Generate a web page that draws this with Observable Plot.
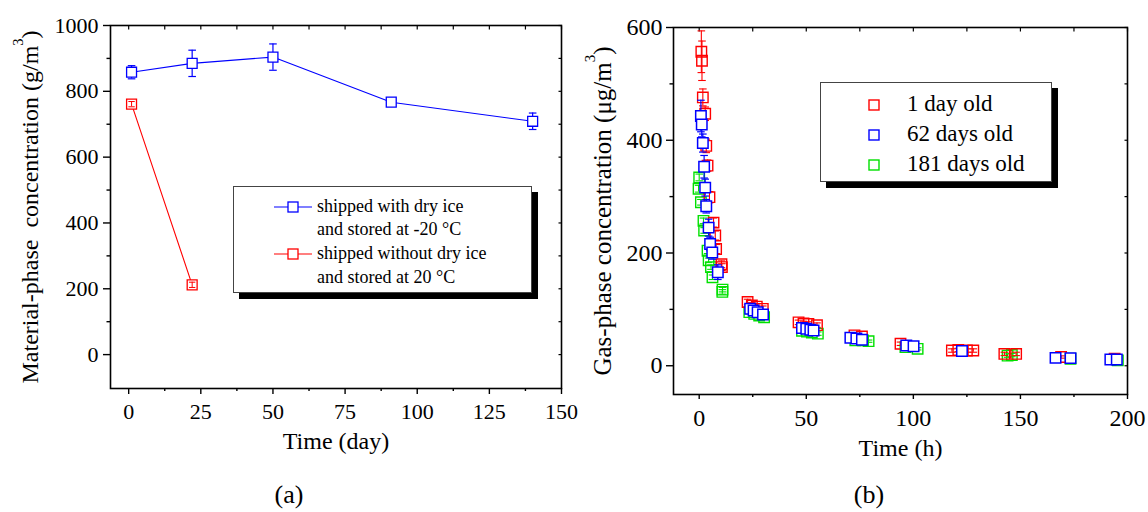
<!DOCTYPE html>
<html>
<head>
<meta charset="utf-8">
<script src="https://cdn.jsdelivr.net/npm/d3@7"></script>
<script src="https://cdn.jsdelivr.net/npm/@observablehq/plot@0.6"></script>
<style>
  body { margin: 0; background: #fff; }
  #root { position: relative; width: 1148px; height: 512px; overflow: hidden;
          font-family: "Liberation Serif", "Times New Roman", serif; color: #000; }
  .panel { position: absolute; top: 0; }
  .panel text { font-family: "Liberation Serif", "Times New Roman", serif; font-variant: normal; }
  .legend { position: absolute; box-sizing: border-box; background: #fff;
            border: 1px solid #444; box-shadow: 6px 6px 0 #000; }
  .legend .row { position: absolute; white-space: pre; line-height: 1; }
  .legend svg { position: absolute; overflow: visible; }
  .caption { position: absolute; font-size: 26px; line-height: 1; transform: translateX(-50%); }
</style>
</head>
<body>
<div id="root"></div>
<script>
// ---------- Panel (a): material-phase concentration during storage ----------
const daysDryIce = [1, 22, 50, 91, 140];
const concDryIce = [858, 885, 904, 767, 709];
const errDryIce = [20, 40, 40, 12, 25];

const daysNoDryIce = [1, 22];
const concNoDryIce = [761, 212];
const errNoDryIce = [8, 8];

const seriesA = ["shipped with dry ice\nand stored at -20 °C", "shipped without dry ice\nand stored at 20 °C"];
const colorsA = ["#0000ff", "#ff0000"];

const xTicksA = [0, 25, 50, 75, 100, 125, 150];
const xMinorA = [12.5, 37.5, 62.5, 87.5, 112.5, 137.5];
const yTicksA = [0, 200, 400, 600, 800, 1000];
const yMinorA = [100, 300, 500, 700, 900];

// ---------- Panel (b): gas-phase concentration during emission test ----------
const hours1 = [1.0, 1.3, 1.7, 2.8, 3.3, 3.9, 4.8, 6.7, 7.5, 7.9, 10.4, 10.6, 22.6, 24.6, 26.9, 29.7, 46.4, 48.7, 51.0, 55.0, 72.5, 76.0, 94.0, 118, 121, 125, 128, 142.5, 148, 169, 194];
const conc1 = [557, 541, 476, 447, 390, 355, 299, 254, 231, 207, 180, 175, 113, 107, 105, 101, 77, 75, 74, 72, 54, 52, 39, 27, 28, 27, 27, 21, 21, 15.5, 12.5];
const err1 = [37, 35, 15, 12, 12, 10, 10, 8, 8, 8, 6, 6, 5, 5, 5, 5, 4, 4, 4, 4, 3, 3, 3, 3, 3, 3, 3, 3, 3, 2, 2];

const hours62 = [0.8, 1.2, 1.7, 2.3, 2.8, 3.3, 4.4, 5.1, 6.1, 8.7, 23.8, 25.4, 27.3, 29.8, 48.0, 50.0, 51.9, 53.4, 70.6, 73.4, 76.0, 96.7, 100.1, 122.7, 166.4, 173.4, 192.0, 195.0];
const conc62 = [443, 428, 395, 353, 316, 283, 245, 216, 201, 166, 101, 98, 95, 91, 67, 65.5, 64, 62.5, 49.6, 48.4, 46, 36, 34.7, 26, 14, 13.5, 11, 11];
const err62 = [28, 22, 16, 20, 15, 12, 15, 12, 12, 13, 5, 5, 5, 5, 3, 3, 3, 3, 3, 3, 3, 2, 2, 2, 2, 2, 2, 2];

const hours181 = [0.0, -0.3, 0.8, 2.0, 2.3, 3.9, 4.4, 5.5, 6.2, 10.8, 10.9, 23.4, 25.7, 28.0, 30.3, 48.0, 50.3, 52.6, 55.4, 72.9, 76.5, 79.1, 96.3, 102.0, 144.0, 146.0, 173.4, 195.5];
const conc181 = [334, 314, 290, 257, 240, 204, 187, 175, 157, 131, 135, 95, 92, 89, 86, 62, 60.5, 59, 57, 45, 45, 43.6, 33, 30, 18, 19, 12.4, 9.5];
const err181 = [6, 6, 5, 5, 5, 5, 4, 4, 4, 4, 4, 3, 3, 3, 3, 3, 3, 3, 3, 2, 2, 2, 2, 2, 3, 3, 2, 2];

const seriesB = ["1 day old", "62 days old", "181 days old"];
const colorsB = ["#ff0000", "#0000ff", "#00e000"];

const xTicksB = [0, 50, 100, 150, 200];
const xMinorB = [25, 75, 125, 175];
const yTicksB = [0, 200, 400, 600];
const yMinorB = [100, 300, 500];

// ---------- helpers ----------
const rows = (xs, ys, es) => xs.map((x, i) => ({x, y: ys[i], e: es[i]}));
const FONT = '"Liberation Serif", "Times New Roman", serif';

// short horizontal stroke used as error-bar cap
const cap = {
  draw(ctx, size) {
    const w = Math.sqrt(size / Math.PI);
    ctx.moveTo(-w, 0);
    ctx.lineTo(w, 0);
  }
};

function errorBars(data, color, width = 1.2, capR = 3.8) {
  return [
    Plot.ruleX(data, {x: "x", y1: d => d.y - d.e, y2: d => d.y + d.e, stroke: color, strokeWidth: width}),
    Plot.dot(data, {x: "x", y: d => d.y + d.e, symbol: cap, r: capR, stroke: color, fill: "none", strokeWidth: width}),
    Plot.dot(data, {x: "x", y: d => d.y - d.e, symbol: cap, r: capR, stroke: color, fill: "none", strokeWidth: width})
  ];
}

function squares(data, color, fill, r, width = 1.3) {
  return Plot.dot(data, {x: "x", y: "y", symbol: "square", r, stroke: color, fill, strokeWidth: width});
}

function frameAxes(xT, xM, yT, yM, fs, majX, majY, padX, padY) {
  const fmt = d3.format("d");
  const common = {label: null, fontFamily: FONT};
  return [
    Plot.frame({stroke: "black", strokeWidth: 1.6}),
    Plot.axisX(xT, {...common, anchor: "bottom", tickSize: majX, tickPadding: padX, tickFormat: fmt, fontSize: fs, strokeWidth: 1.4}),
    Plot.axisX(xM, {...common, anchor: "bottom", tickSize: 3, tickFormat: () => "", strokeWidth: 1.4}),
    Plot.axisX(xT.concat(xM), {...common, anchor: "top", tickSize: -3.5, tickFormat: () => "", strokeWidth: 1.2}),
    Plot.axisY(yT, {...common, anchor: "left", tickSize: majY, tickPadding: padY, tickFormat: fmt, fontSize: fs, strokeWidth: 1.4}),
    Plot.axisY(yM, {...common, anchor: "left", tickSize: 3.5, tickFormat: () => "", strokeWidth: 1.4}),
    Plot.axisY(yT.concat(yM), {...common, anchor: "right", tickSize: -3.5, tickFormat: () => "", strokeWidth: 1.2})
  ];
}

// raise the "3" of m³ as a true superscript and keep double spaces
function superscript(svg) {
  svg.querySelectorAll("text").forEach(t => {
    const s = t.textContent;
    if (!s.includes("³")) return;
    const [a, b] = s.split("³");
    t.textContent = "";
    t.setAttribute("style", "white-space: pre");
    const ns = "http://www.w3.org/2000/svg";
    const t1 = document.createElementNS(ns, "tspan"); t1.textContent = a;
    const t2 = document.createElementNS(ns, "tspan"); t2.textContent = "3";
    t2.setAttribute("font-size", "60%"); t2.setAttribute("dy", "-1.05em");
    const t3 = document.createElementNS(ns, "tspan"); t3.textContent = b;
    t3.setAttribute("dy", "0.63em");
    t.append(t1, t2, t3);
  });
}

const root = document.getElementById("root");

// ---------- Panel (a) ----------
const dataDry = rows(daysDryIce, concDryIce, errDryIce);
const dataNoDry = rows(daysNoDryIce, concNoDryIce, errNoDryIce);

const plotA = Plot.plot({
  width: 580, height: 450,
  marginLeft: 110, marginRight: 19, marginTop: 25, marginBottom: 62,
  x: {domain: [-6.3, 150]},
  y: {domain: [-103, 1000]},
  style: {fontFamily: FONT, color: "black", background: "transparent", overflow: "visible"},
  marks: [
    ...frameAxes(xTicksA, xMinorA, yTicksA, yMinorA, 22, 6, 7, 9, 5),
    Plot.line(dataDry, {x: "x", y: "y", stroke: colorsA[0], strokeWidth: 1.1}),
    Plot.line(dataNoDry, {x: "x", y: "y", stroke: colorsA[1], strokeWidth: 1.1}),
    ...errorBars(dataDry, colorsA[0], 1.2, 3.8),
    squares(dataDry, colorsA[0], "white", 5.6, 1.3),
    squares(dataNoDry, colorsA[1], "white", 5.6, 1.3),
    ...errorBars(dataNoDry, colorsA[1], 1.0, 3.2),
    Plot.text(["Time (day)"], {frameAnchor: "bottom", lineAnchor: "middle", textAnchor: "middle", dy: 53, fontSize: 24, fontFamily: FONT, text: d => d}),
    Plot.text(["Material-phase  concentration (g/m³)"], {frameAnchor: "left", lineAnchor: "middle", textAnchor: "middle", rotate: -90, dx: -80, fontSize: 24, fontFamily: FONT, text: d => d})
  ]
});
superscript(plotA);
plotA.classList.add("panel");
plotA.style.left = "0px";
root.appendChild(plotA);

// ---------- Panel (b) ----------
const data1 = rows(hours1, conc1, err1);
const data62 = rows(hours62, conc62, err62);
const data181 = rows(hours181, conc181, err181);

const plotB = Plot.plot({
  width: 568, height: 450,
  marginLeft: 93, marginRight: 21, marginTop: 27, marginBottom: 56,
  x: {domain: [-12, 200]},
  y: {domain: [-51, 600]},
  style: {fontFamily: FONT, color: "black", background: "transparent", overflow: "visible"},
  marks: [
    ...frameAxes(xTicksB, xMinorB, yTicksB, yMinorB, 24, 5, 7, 9, 4),
    ...errorBars(data181, colorsB[2], 1.1, 3.8),
    squares(data181, colorsB[2], "none", 5.9, 1.4),
    ...errorBars(data1, colorsB[0], 1.1, 3.8),
    squares(data1, colorsB[0], "none", 5.9, 1.4),
    ...errorBars(data62, colorsB[1], 1.2, 3.8),
    squares(data62, colorsB[1], "white", 5.9, 1.5),
    Plot.text(["Time (h)"], {frameAnchor: "bottom", lineAnchor: "middle", textAnchor: "middle", dy: 54, fontSize: 24, fontFamily: FONT, text: d => d}),
    Plot.text(["Gas-phase concentration (μg/m³)"], {frameAnchor: "left", lineAnchor: "middle", textAnchor: "middle", rotate: -90, dx: -71, fontSize: 25, fontFamily: FONT, text: d => d})
  ]
});
superscript(plotB);
plotB.classList.add("panel");
plotB.style.left = "580px";
root.appendChild(plotB);

// ---------- Legends ----------
function el(tag, cls, css, html) {
  const e = document.createElement(tag);
  if (cls) e.className = cls;
  Object.assign(e.style, css || {});
  if (html != null) e.innerHTML = html;
  return e;
}

// legend of panel (a): line + square glyph, two text lines per entry
const legA = el("div", "legend", {left: "233px", top: "186px", width: "299px", height: "107px"});
const glyphTopA = [14, 61];
const textTopA = [[10, 33], [57, 81]];
seriesA.forEach((label, i) => {
  const c = colorsA[i];
  legA.appendChild(el("div", null, {position: "absolute", left: "40px", top: glyphTopA[i] + "px", width: "38px", height: "12px"},
    `<svg width="38" height="12"><line x1="0" y1="6" x2="38" y2="6" stroke="${c}" stroke-width="1.1"/>` +
    `<rect x="14" y="1" width="10" height="10" fill="white" stroke="${c}" stroke-width="1.3"/></svg>`));
  label.split("\n").forEach((line, j) => {
    legA.appendChild(el("div", "row", {left: "83px", top: textTopA[i][j] + "px", fontSize: "18px"}, line));
  });
});
root.appendChild(legA);

// legend of panel (b): square glyph per sample age
const legB = el("div", "legend", {left: "820px", top: "82px", width: "232px", height: "100px"});
seriesB.forEach((label, i) => {
  const c = colorsB[i];
  legB.appendChild(el("div", null, {position: "absolute", left: "47px", top: (16 + 30 * i) + "px", width: "12px", height: "12px"},
    `<svg width="12" height="12"><rect x="1" y="1" width="10" height="10" fill="none" stroke="${c}" stroke-width="1.4"/></svg>`));
  legB.appendChild(el("div", "row", {left: "86px", top: (9 + 30 * i) + "px", fontSize: "23px"}, label));
});
root.appendChild(legB);

// panel captions
root.appendChild(el("div", "caption", {left: "289px", top: "482px"}, "(a)"));
root.appendChild(el("div", "caption", {left: "869px", top: "482px"}, "(b)"));
</script>
</body>
</html>
